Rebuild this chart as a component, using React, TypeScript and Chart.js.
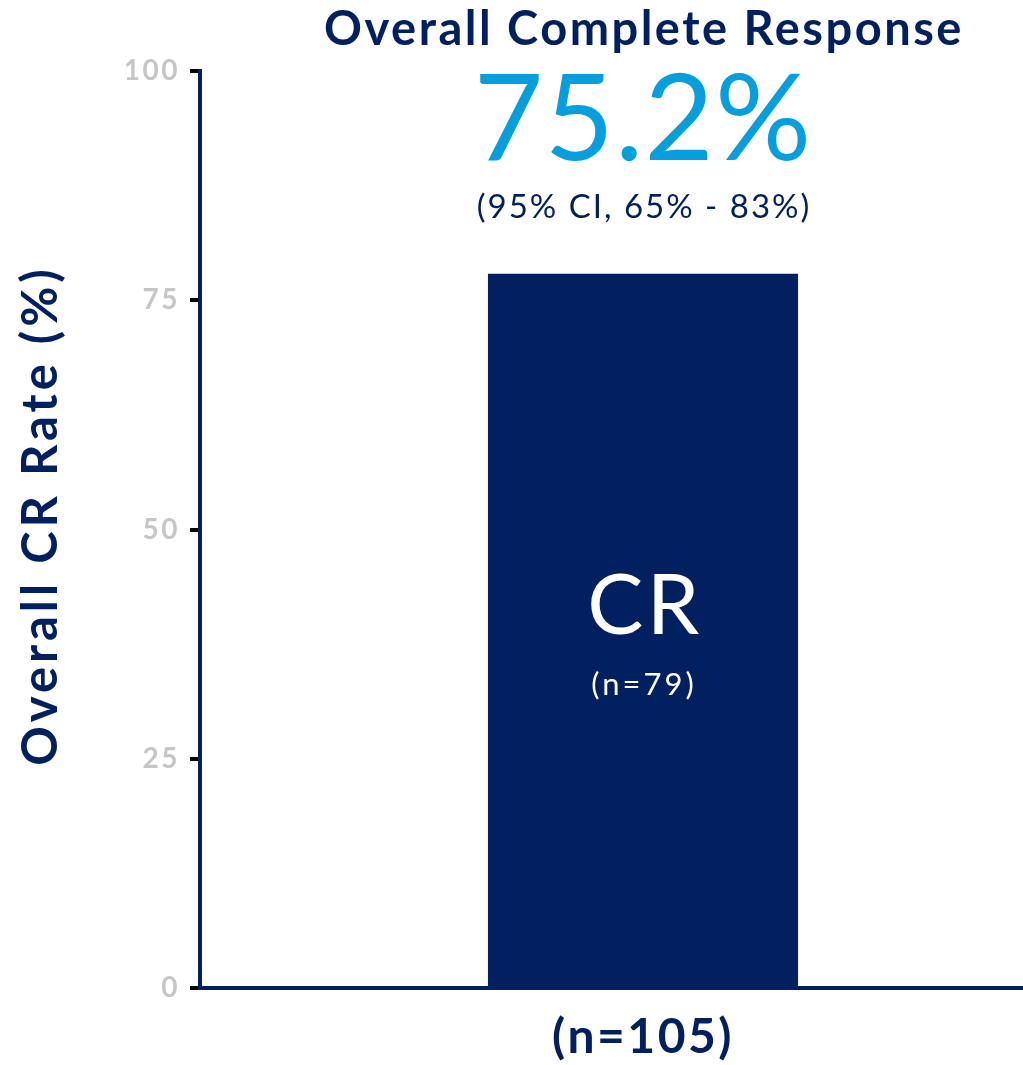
import React, { useEffect, useRef } from "react";
import { Chart, registerables } from "chart.js";

Chart.register(...registerables);

const categories = ["(n=105)"];
const crRate = [77.9];
const yTicks = [0, 25, 50, 75, 100];
const headline = "Overall Complete Response";
const bigValue = "75.2%";
const ciText = "(95% CI, 65% - 83%)";
const barLabel = "CR";
const barSubLabel = "(n=79)";
const yTitle = "Overall CR Rate (%)";

const NAVY = "#02205F";
const BLUE = "#069EDD";
const GRAY = "#C6C6C6";
const FONT = "Lato, 'Open Sans', sans-serif";

const spacingPlugin = {
  id: "spacingPlugin",
  beforeDraw(chart: any) {
    (chart.ctx as any).letterSpacing = "2.5px";
  },
  beforeDatasetsDraw(chart: any) {
    (chart.ctx as any).letterSpacing = "0px";
  },
};

const textPlugin = {
  id: "textPlugin",
  afterDatasetsDraw(chart: any) {
    const meta = chart.getDatasetMeta(0);
    const bar = meta.data[0];
    if (!bar) return;
    const ctx = chart.ctx as any;
    const cx = bar.x;
    const { top, bottom } = chart.chartArea;
    const yScale = chart.scales.y;
    ctx.save();
    ctx.textAlign = "center";
    ctx.textBaseline = "alphabetic";
    ctx.fillStyle = NAVY;
    ctx.font = `bold 47px ${FONT}`;
    ctx.letterSpacing = "2.5px";
    ctx.fillText(headline, cx + 1, top - 26);
    ctx.fillStyle = BLUE;
    ctx.font = `normal 120px ${FONT}`;
    ctx.letterSpacing = "1px";
    ctx.fillText(bigValue, cx, top + 89);
    ctx.fillStyle = NAVY;
    ctx.font = `normal 33px ${FONT}`;
    ctx.letterSpacing = "2px";
    ctx.fillText(ciText, cx + 1, top + 147);
    const mid = yScale.getPixelForValue(50);
    ctx.fillStyle = "#FFFFFF";
    ctx.font = `normal 84px ${FONT}`;
    ctx.letterSpacing = "3.5px";
    ctx.fillText(barLabel, cx + 2, mid + 104);
    ctx.font = `normal 31px ${FONT}`;
    ctx.letterSpacing = "3px";
    ctx.fillText(barSubLabel, cx + 1, mid + 165);
    ctx.restore();

    // y-axis title
    ctx.save();
    ctx.translate(41, (top + bottom) / 2 - 12);
    ctx.rotate(-Math.PI / 2);
    ctx.textAlign = "center";
    ctx.textBaseline = "middle";
    ctx.fillStyle = NAVY;
    ctx.font = `bold 49px ${FONT}`;
    ctx.letterSpacing = "4px";
    ctx.fillText(yTitle, 2, 0);
    ctx.restore();
  },
};

export default function App() {
  const ref = useRef<HTMLCanvasElement>(null);
  useEffect(() => {
    if (!ref.current) return;
    const chart = new Chart(ref.current, {
      type: "bar",
      data: {
        labels: categories,
        datasets: [
          {
            data: crRate,
            backgroundColor: NAVY,
            borderWidth: 0,
            barPercentage: 0.35,
            categoryPercentage: 1,
          },
        ],
      },
      options: {
        responsive: false,
        animation: false,
        layout: { padding: { top: 71, right: 0, left: 0, bottom: 0 } },
        plugins: { legend: { display: false }, tooltip: { enabled: false } },
        scales: {
          x: {
            grid: { display: true, drawOnChartArea: false, drawTicks: false, color: "rgba(0,0,0,0)" },
            border: { display: true, color: NAVY, width: 4 },
            ticks: {
              color: NAVY,
              font: { family: FONT, size: 48, weight: "bold" },
              padding: 21,
            },
            afterFit: (s: any) => {
              s.height = 77;
            },
          },
          y: {
            min: 0,
            max: 100,
            afterBuildTicks: (s: any) => {
              s.ticks = yTicks.map((v) => ({ value: v }));
            },
            grid: {
              display: true,
              drawOnChartArea: false,
              drawTicks: true,
              tickLength: 10,
              color: "#000000",
              lineWidth: 4,
            },
            border: { display: true, color: NAVY, width: 4 },
            ticks: {
              color: GRAY,
              padding: 10,
              font: { family: FONT, size: 28, weight: "bold" },
            },
            title: { display: false },
            afterFit: (s: any) => {
              s.width = 200;
            },
          },
        },
      },
      plugins: [spacingPlugin, textPlugin],
    });
    return () => chart.destroy();
  }, []);
  return (
    <div
      style={{
        position: "fixed",
        left: 0,
        top: 0,
        width: 1023,
        height: 1065,
        overflow: "hidden",
        background: "#fff",
      }}
    >
      <canvas ref={ref} width={1086} height={1065} style={{ display: "block" }} />
    </div>
  );
}
